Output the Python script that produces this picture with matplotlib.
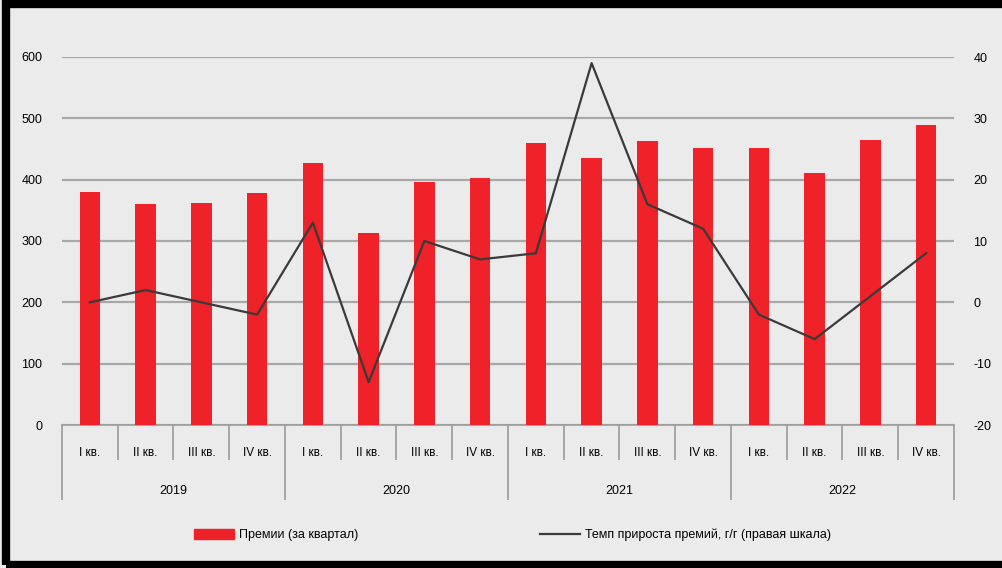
import matplotlib.pyplot as plt
from matplotlib.patches import Rectangle
from matplotlib.lines import Line2D
from matplotlib import font_manager

names = {f.name for f in font_manager.fontManager.ttflist}
fam = 'Liberation Sans Narrow' if 'Liberation Sans Narrow' in names else 'Liberation Sans'
plt.rcParams['font.family'] = [fam, 'DejaVu Sans']
plt.rcParams['axes.unicode_minus'] = False

years = ['2019', '2020', '2021', '2022']
quarters = ['I кв.', 'II кв.', 'III кв.', 'IV кв.']
premiums = [380, 360, 362, 378, 427, 313, 396, 403, 460, 435, 463, 452, 452, 411, 465, 489]
growth = [0, 2, 0, -2, 13, -13, 10, 7, 8, 39, 16, 12, -2, -6, 1, 8]

bg = '#ebebeb'
red = '#ee2228'
fig = plt.figure(figsize=(10.03, 5.68), dpi=100, facecolor=bg)
ax = fig.add_axes([62 / 1003, 1 - 425 / 568, (954 - 62) / 1003, (425 - 57) / 568])
ax.set_facecolor(bg)
x = list(range(len(premiums)))
ax.bar(x, premiums, width=0.37, color=red, zorder=3)
ax.set_ylim(0, 600)
ax.set_xlim(-0.5, len(premiums) - 0.5)
ax.set_yticks(range(0, 601, 100))
ax.yaxis.grid(True, color='#a8a8a8', lw=1.6, zorder=0)
for s in ['left', 'right', 'top']:
    ax.spines[s].set_visible(False)
ax.spines['bottom'].set_color('#a0a0a0')
ax.spines['bottom'].set_linewidth(1.3)
ax.tick_params(axis='y', length=0, pad=14, labelsize=9)

# group boundaries as ticks
ax.set_xticks([-0.5, 3.5, 7.5, 11.5, 15.5])
ax.set_xticklabels([])
ax.set_xticks([b + 0.5 for b in range(16) if b not in (3, 7, 11, 15)], minor=True)
ax.tick_params(axis='x', which='major', direction='out', length=54, color='#a0a0a0', width=1.3)
ax.tick_params(axis='x', which='minor', direction='out', length=25, color='#a0a0a0', width=1.3)

tr = ax.get_xaxis_transform()
for i in x:
    ax.text(i, -0.075, quarters[i % 4], transform=tr, ha='center', va='center', fontsize=8.5)
for k, y in enumerate(years):
    ax.text(4 * k + 1.5, -0.18, y, transform=tr, ha='center', va='center', fontsize=9)

ax2 = ax.twinx()
ax2.plot(x, growth, color='#3a3a3a', lw=1.6, zorder=4)
ax2.set_ylim(-20, 40)
ax2.set_yticks(range(-20, 41, 10))
for s in ax2.spines.values():
    s.set_visible(False)
ax2.tick_params(axis='y', length=0, pad=14, labelsize=9)

handles = [Rectangle((0, 0), 1, 1, color=red),
           Line2D([], [], color='#3a3a3a', lw=1.6)]
fig.legend(handles, ['Премии (за квартал)', 'Темп прироста премий, г/г (правая шкала)'],
           loc='center', bbox_to_anchor=(0.511, 1 - 535 / 568), ncol=2, frameon=False,
           fontsize=9, handlelength=3.2, handleheight=0.9, columnspacing=14.6, handletextpad=0.4)

fig.patches.append(Rectangle((6, 3), 1010, 561, transform=None, fill=False,
                             edgecolor='black', lw=6))

fig.savefig('out.png', dpi=100, facecolor=bg)
